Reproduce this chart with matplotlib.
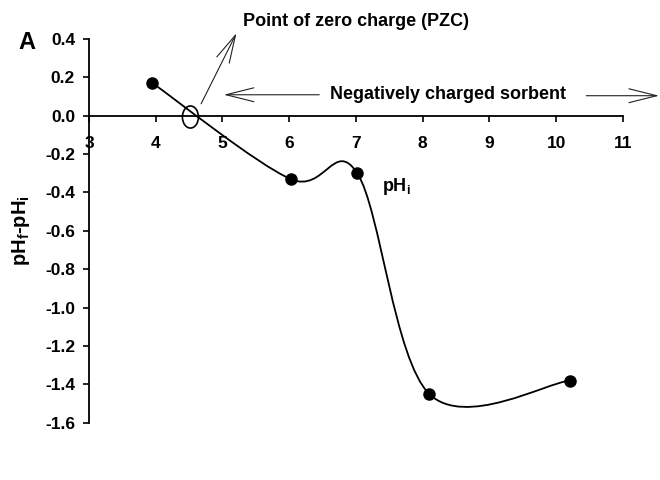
import matplotlib
matplotlib.use("Agg")
import matplotlib.pyplot as plt
import numpy as np
from matplotlib.path import Path
from matplotlib.patches import PathPatch, Ellipse, FancyArrowPatch

plt.rcParams["font.family"] = "Liberation Sans"
plt.rcParams["font.weight"] = "bold"
plt.rcParams["mathtext.fontset"] = "custom"
plt.rcParams["mathtext.rm"] = "Liberation Sans:bold"
plt.rcParams["mathtext.bf"] = "Liberation Sans:bold"

# initial pH vs. pH shift
ph_i = [3.95, 6.02, 7.02, 8.10, 10.20]
delta_ph = [0.17, -0.33, -0.30, -1.45, -1.38]
pzc = 4.52
x_ticks = [3, 4, 5, 6, 7, 8, 9, 10, 11]
y_ticks = [-1.6, -1.4, -1.2, -1.0, -0.8, -0.6, -0.4, -0.2, 0.0, 0.2, 0.4]


def smooth_path(xs, ys):
    # spreadsheet-style smoothed line: cubic Bezier through the points,
    # control points from neighbouring points (tension 1/6)
    pts = np.column_stack([xs, ys])
    n = len(pts)
    verts = [pts[0]]
    codes = [Path.MOVETO]
    for i in range(n - 1):
        p0 = pts[max(i - 1, 0)]
        p1 = pts[i]
        p2 = pts[i + 1]
        p3 = pts[min(i + 2, n - 1)]
        c1 = p1 + (p2 - p0) / 6.0
        c2 = p2 - (p3 - p1) / 6.0
        verts += [c1, c2, p2]
        codes += [Path.CURVE4] * 3
    return Path(verts, codes)


fig = plt.figure(figsize=(6.6, 4.8), dpi=100)
ax = fig.add_axes([0.1348, 0.119, 0.8091, 0.800])
ax.set_xlim(3, 11)
ax.set_ylim(-1.6, 0.4)

ax.spines["top"].set_visible(False)
ax.spines["right"].set_visible(False)
ax.spines["bottom"].set_position(("data", 0))
for s in ("left", "bottom"):
    ax.spines[s].set_linewidth(1.3)

ax.set_xticks(x_ticks)
ax.set_xticklabels([str(t) for t in x_ticks])
ax.set_yticks(y_ticks)
ax.set_yticklabels([f"{t:.1f}" for t in y_ticks])
ax.tick_params(axis="x", direction="out", length=4, width=1.2, pad=10.5, labelsize=12.5)
ax.tick_params(axis="y", direction="out", length=4, width=1.2, pad=6, labelsize=12.5)

ax.add_patch(PathPatch(smooth_path(ph_i, delta_ph), facecolor="none",
                       edgecolor="black", lw=1.3, zorder=3))
ax.plot(ph_i, delta_ph, "o", color="black", ms=8, zorder=4)

ax.add_patch(Ellipse((pzc, -0.007), 0.24, 0.115, facecolor="none",
                     edgecolor="black", lw=1.2, zorder=5))

arrow_kw = dict(arrowstyle="->,head_length=2.0,head_width=0.5", color="#222222",
                lw=0.8, mutation_scale=10, clip_on=False, shrinkA=0, shrinkB=0)
for start, end in [((4.68, 0.062), (5.21, 0.43)),
                   ((6.45, 0.109), (5.02, 0.109)),
                   ((10.45, 0.104), (11.54, 0.104))]:
    ax.add_patch(FancyArrowPatch(start, end, **arrow_kw))

ax.text(5.31, 0.49, "Point of zero charge (PZC)", fontsize=13,
        fontweight="bold", va="center", ha="left", clip_on=False)
ax.text(8.38, 0.109, "Negatively charged sorbent", fontsize=13,
        fontweight="bold", va="center", ha="center")
ax.text(7.39, -0.37, "pH$_\\mathrm{i}$", fontsize=13, fontweight="bold",
        va="center", ha="left")

ax.set_ylabel("pH$_\\mathrm{f}$-pH$_\\mathrm{i}$", fontsize=14.5, fontweight="bold",
              labelpad=9)
fig.text(0.041, 0.912, "A", fontsize=17, fontweight="bold", va="center", ha="center")

fig.savefig("out.png", dpi=100, facecolor="white")
